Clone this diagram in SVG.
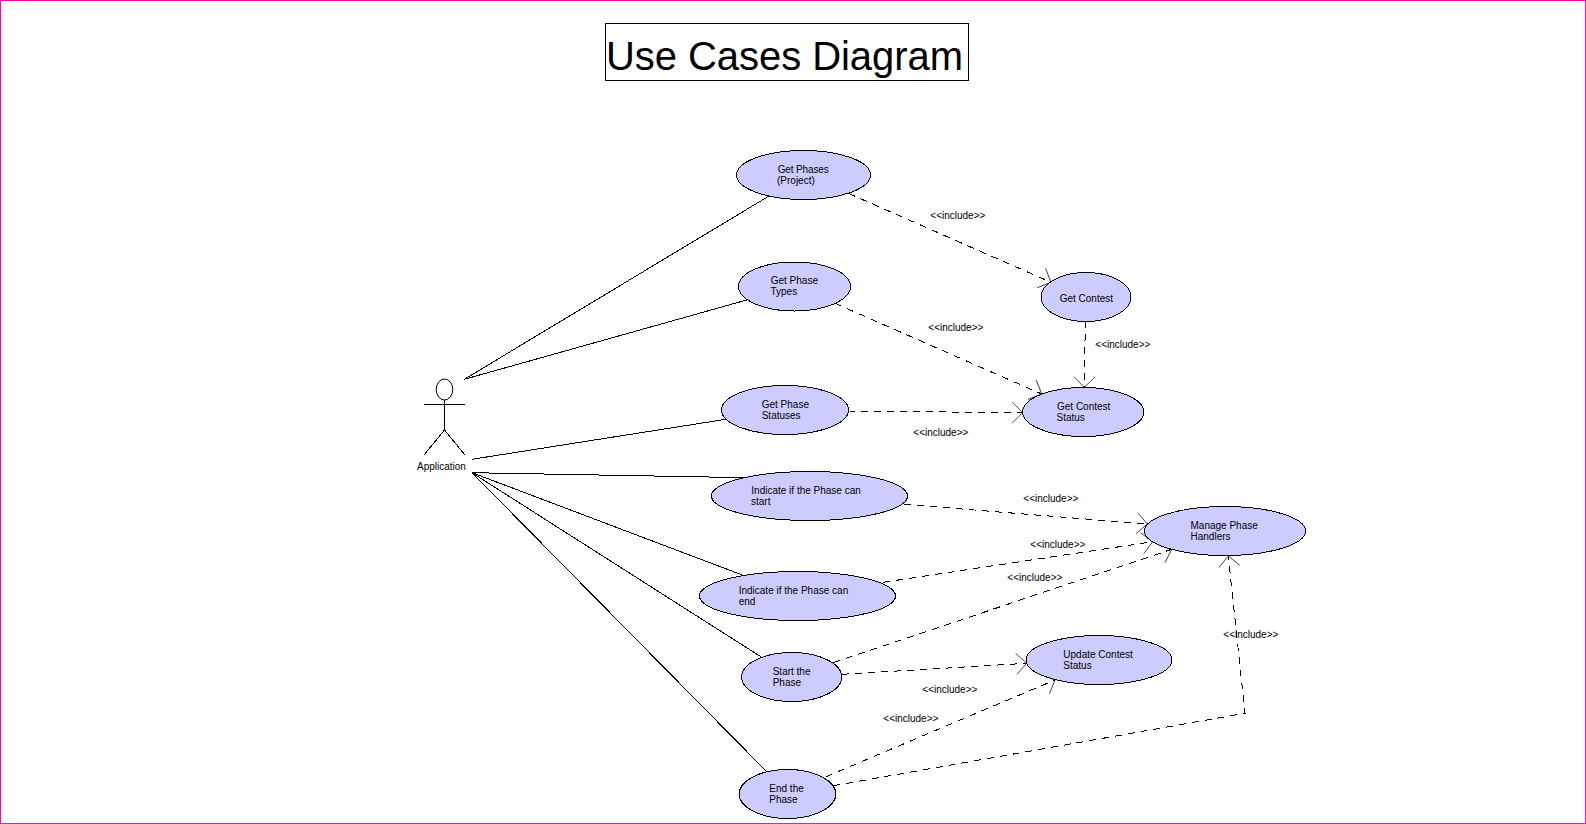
<svg xmlns="http://www.w3.org/2000/svg" width="1586" height="824" viewBox="0 0 1586 824">
<style>
text{font-family:"Liberation Sans",Arial,sans-serif;font-size:10px;fill:#000}
.title{font-size:40px}
.uc{fill:#ccf;stroke:#000;stroke-width:1;shape-rendering:crispEdges}
.s{fill:none;stroke:#000;stroke-width:1;shape-rendering:crispEdges}
.d{fill:none;stroke:#000;stroke-width:1;stroke-dasharray:7 6;marker-end:url(#open);shape-rendering:crispEdges}
</style>
<defs>
<marker id="open" markerUnits="userSpaceOnUse" orient="auto" refX="0" refY="0" markerWidth="30" markerHeight="30" viewBox="-15 -15 30 30" overflow="visible">
<path d="M-10.5,-10.5L0,0L-10.5,10.5" fill="none" stroke="#222" stroke-width="0.8"/>
</marker>
</defs>
<rect width="1586" height="824" fill="#fff"/>
<path d="M0.5,824V0.5H1586" fill="none" stroke="#f0a"/>
<path d="M1585.5,0V823.5H0" fill="none" stroke="#ea1ba0"/>
<g id="title">
<rect x="605.5" y="23.5" width="363" height="57" fill="#fff" stroke="#000"/>
<text class="title" x="606" y="70" textLength="357">Use Cases Diagram</text>
</g>
<g id="connectors">
<path class="s" d="M464.3,379.3L769,196"/>
<path class="s" d="M464.3,379.3L746.7,300"/>
<path class="s" d="M472,459.3L726,419.3"/>
<path class="s" d="M472,472.7L746.7,477.7"/>
<path class="s" d="M472,472.7L742.3,575"/>
<path class="s" d="M472,472.7L761.7,657.3"/>
<path class="s" d="M472,472.7L766.7,771.7"/>
<path class="d" d="M848.3,193.3L1051,282.3"/>
<path class="d" d="M835,303.3L1041.7,394"/>
<path class="d" d="M1085.3,321.3L1084.3,387.3"/>
<path class="d" d="M848.3,411L1022.7,412.7"/>
<path class="d" d="M904,504.3L1147.3,524"/>
<path class="d" d="M883.3,582.3L1152.7,541.7"/>
<path class="d" d="M833.3,662.7L1171.7,549.3"/>
<path class="d" d="M841.7,674.3L1026.7,663.3"/>
<path class="d" d="M826,776.7L1055,680"/>
<path class="d" d="M833.3,785.7L1245,713.3L1228.3,556"/>
<text x="930.3" y="219">&lt;&lt;include&gt;&gt;</text>
<text x="928.3" y="331">&lt;&lt;include&gt;&gt;</text>
<text x="1095.3" y="348">&lt;&lt;include&gt;&gt;</text>
<text x="913.3" y="436">&lt;&lt;include&gt;&gt;</text>
<text x="1023.3" y="502">&lt;&lt;include&gt;&gt;</text>
<text x="1030.3" y="548">&lt;&lt;include&gt;&gt;</text>
<text x="1007.3" y="581">&lt;&lt;include&gt;&gt;</text>
<text x="1223.3" y="638">&lt;&lt;include&gt;&gt;</text>
<text x="922.3" y="693">&lt;&lt;include&gt;&gt;</text>
<text x="883.3" y="722">&lt;&lt;include&gt;&gt;</text>
</g>
<g id="actor-application">
<ellipse cx="444.5" cy="389.5" rx="8.3" ry="10.5" fill="#fff" stroke="#000"/>
<path class="s" d="M424,404.5H465M444.5,400V430L424,455M444.5,430L465,455"/>
<text x="417" y="470">Application</text>
</g>
<g id="uc-get-phases">
<ellipse class="uc" cx="803.5" cy="175" rx="67" ry="24.5"/>
<text x="777.7" y="173" textLength="51">Get Phases</text><text x="777" y="184">(Project)</text>
</g>
<g id="uc-get-phase-types">
<ellipse class="uc" cx="794.5" cy="286.5" rx="56" ry="24.5"/>
<text x="770.7" y="284">Get Phase</text><text x="770.5" y="295">Types</text>
</g>
<g id="uc-get-phase-statuses">
<ellipse class="uc" cx="785" cy="410" rx="63.5" ry="24.5"/>
<text x="761.7" y="408">Get Phase</text><text x="761.7" y="419">Statuses</text>
</g>
<g id="uc-indicate-start">
<ellipse class="uc" cx="809.5" cy="496" rx="98" ry="24.5"/>
<text x="751.3" y="494">Indicate if the Phase can</text><text x="751" y="505">start</text>
</g>
<g id="uc-indicate-end">
<ellipse class="uc" cx="797.5" cy="596" rx="98" ry="24.5"/>
<text x="738.7" y="594">Indicate if the Phase can</text><text x="738.7" y="605">end</text>
</g>
<g id="uc-start-phase">
<ellipse class="uc" cx="791.7" cy="677" rx="50" ry="24.5"/>
<text x="772.7" y="675">Start the</text><text x="772.7" y="686">Phase</text>
</g>
<g id="uc-end-phase">
<ellipse class="uc" cx="787.5" cy="794" rx="48.3" ry="24.5"/>
<text x="769.3" y="792">End the</text><text x="769.3" y="803">Phase</text>
</g>
<g id="uc-get-contest">
<ellipse class="uc" cx="1086" cy="297" rx="45" ry="24.5"/>
<text x="1059.7" y="302">Get Contest</text>
</g>
<g id="uc-get-contest-status">
<ellipse class="uc" cx="1083.2" cy="412" rx="60.5" ry="24.5"/>
<text x="1057" y="410">Get Contest</text><text x="1056.5" y="421">Status</text>
</g>
<g id="uc-manage-phase-handlers">
<ellipse class="uc" cx="1225" cy="531" rx="80.5" ry="24.5"/>
<text x="1190.5" y="529">Manage Phase</text><text x="1190.5" y="540">Handlers</text>
</g>
<g id="uc-update-contest-status">
<ellipse class="uc" cx="1099" cy="660" rx="73" ry="24.5"/>
<text x="1063.3" y="658">Update Contest</text><text x="1063.3" y="669">Status</text>
</g>
</svg>
